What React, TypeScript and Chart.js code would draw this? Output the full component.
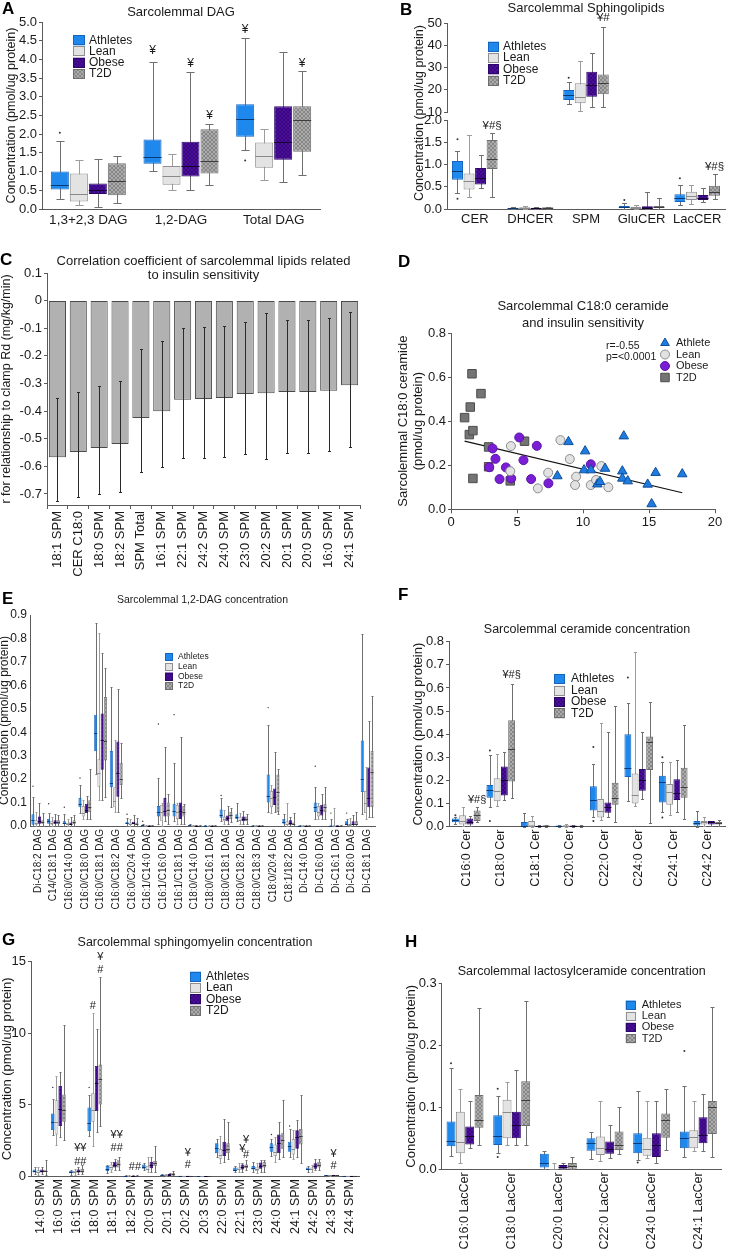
import React, { useEffect, useRef } from 'react';
import { Chart, registerables } from 'chart.js';

Chart.register(...registerables);

const FONT = "'Liberation Sans', Arial, Helvetica, sans-serif";
Chart.defaults.font.family = FONT;
Chart.defaults.color = '#1a1a1a';

type Stat = number[] | null; // [lo whisker, q1, median, q3, hi whisker]
type Ann = { cat: number; ds: number; v: number; t: string };

// ======================= DATA =======================
const GROUPS = ['Athletes', 'Lean', 'Obese', 'T2D'];

// ---- A: Sarcolemmal DAG ----
const A_CATS = ['1,3+2,3 DAG', '1,2-DAG', 'Total DAG'];
const A_ATH: Stat[] = [[0.28, 0.52, 0.65, 1.0, 1.82], [1.02, 1.21, 1.4, 1.86, 3.92], [1.58, 1.93, 2.4, 2.8, 4.56]];
const A_LEAN: Stat[] = [[0.12, 0.2, 0.4, 0.95, 1.32], [0.52, 0.65, 0.87, 1.15, 1.48], [0.78, 1.1, 1.43, 1.78, 2.13]];
const A_OB: Stat[] = [[0.06, 0.4, 0.52, 0.68, 1.35], [0.5, 0.87, 1.15, 1.8, 3.67], [0.72, 1.32, 1.8, 2.75, 4.2]];
const A_T2D: Stat[] = [[0.17, 0.37, 0.74, 1.22, 1.43], [0.65, 0.95, 1.28, 2.13, 2.26], [0.92, 1.53, 2.37, 2.75, 3.69]];
const A_ATH_OUT = [[0, 2.04], [2, 1.3]];
const A_ANN: Ann[] = [
  { cat: 1, ds: 0, v: 4.23, t: '¥' }, { cat: 1, ds: 2, v: 3.88, t: '¥' }, { cat: 1, ds: 3, v: 2.49, t: '¥' },
  { cat: 2, ds: 0, v: 4.8, t: '¥' }, { cat: 2, ds: 3, v: 3.88, t: '¥' },
];

// ---- B: Sarcolemmal Sphingolipids (SPM on the upper, broken axis) ----
const B_CATS = ['CER', 'DHCER', 'SPM', 'GluCER', 'LacCER'];
const B_ON_UPPER = [false, false, true, false, false];
const B_ATH: Stat[] = [[0.35, 0.66, 0.85, 1.08, 1.3], [0.005, 0.015, 0.02, 0.03, 0.05], [13.5, 15.4, 17.6, 19.9, 23.3], [0.01, 0.04, 0.05, 0.07, 0.13], [0.1, 0.16, 0.25, 0.33, 0.54]];
const B_LEAN: Stat[] = [[0.28, 0.44, 0.64, 0.8, 1.66], [0.01, 0.02, 0.03, 0.04, 0.06], [10.4, 13.9, 16.9, 22.9, 32.9], [0.005, 0.02, 0.03, 0.05, 0.08], [0.12, 0.2, 0.29, 0.39, 0.54]];
const B_OB: Stat[] = [[0.47, 0.55, 0.7, 0.92, 1.21], [0.005, 0.015, 0.02, 0.03, 0.04], [12.1, 16.9, 22.1, 28.1, 36.4], [0.005, 0.02, 0.03, 0.06, 0.38], [0.16, 0.2, 0.25, 0.315, 0.48]];
const B_T2D: Stat[] = [[0.27, 0.9, 1.12, 1.55, 1.7], [0.01, 0.02, 0.03, 0.04, 0.05], [12.4, 18.0, 23.2, 26.9, 48.3], [0.01, 0.03, 0.05, 0.07, 0.25], [0.22, 0.3, 0.39, 0.52, 0.78]];
const B_ATH_OUT = [[0, 1.57], [0, 0.23], [2, 25.4], [3, 0.2], [4, 0.69]];
const B_ANN: Ann[] = [
  { cat: 0, ds: 3, v: 1.88, t: '¥#§' }, { cat: 2, ds: 3, v: 52.1, t: '¥#' }, { cat: 4, ds: 3, v: 0.95, t: '¥#§' },
];

// ---- C: correlation coefficients ----
const C_LABELS = ['18:1 SPM', 'CER C18:0', '18:0 SPM', '18:2 SPM', 'SPM Total', '16:1 SPM', '22:1 SPM', '24:2 SPM', '24:0 SPM', '23:0 SPM', '20:2 SPM', '20:1 SPM', '20:0 SPM', '16:0 SPM', '24:1 SPM'];
const C_R = [-0.567, -0.548, -0.534, -0.519, -0.425, -0.401, -0.359, -0.356, -0.353, -0.338, -0.335, -0.331, -0.331, -0.326, -0.306];
const C_LO = [-0.725, -0.711, -0.699, -0.694, -0.621, -0.604, -0.57, -0.57, -0.567, -0.556, -0.572, -0.552, -0.552, -0.545, -0.53];
const C_HI = [-0.353, -0.33, -0.31, -0.29, -0.175, -0.147, -0.099, -0.095, -0.092, -0.077, -0.045, -0.07, -0.07, -0.063, -0.041];

// ---- D: scatter C18:0 ceramide vs insulin sensitivity ----
const D_ATH = [[8.9, 0.306], [10.16, 0.264], [13.09, 0.332], [8.06, 0.151], [10.08, 0.178], [10.6, 0.178], [11.67, 0.185], [12.98, 0.173], [15.5, 0.166], [17.52, 0.16], [11.09, 0.114], [11.29, 0.125], [12.98, 0.14], [13.39, 0.128], [14.9, 0.113], [15.2, 0.024]];
const D_LEAN = [[4.54, 0.287], [4.49, 0.173], [8.29, 0.314], [9.0, 0.228], [7.36, 0.166], [9.48, 0.148], [9.4, 0.11], [6.58, 0.095], [10.59, 0.11], [10.99, 0.133], [11.39, 0.196], [11.92, 0.1]];
const D_OB = [[3.15, 0.276], [5.17, 0.326], [6.5, 0.288], [3.37, 0.229], [5.49, 0.223], [4.16, 0.19], [2.9, 0.191], [3.68, 0.137], [4.56, 0.14], [6.07, 0.137], [7.38, 0.118], [10.59, 0.204]];
const D_T2D = [[1.59, 0.615], [2.27, 0.525], [1.46, 0.464], [1.03, 0.416], [1.39, 0.339], [1.66, 0.357], [2.85, 0.283], [5.57, 0.309], [2.85, 0.193], [1.66, 0.14], [4.49, 0.129]];
const D_FIT = [[1.03, 0.309], [17.52, 0.075]];
const D_STATS = ['r=-0.55', 'p=<0.0001'];

// ---- E: 1,2-DAG species ----
const E_CATS = ['Di-C18:2 DAG', 'C14/C18:1 DAG', 'C16:0/C14:0 DAG', 'C16:0/C18:0 DAG', 'C16:0/C18:1 DAG', 'C16:0/C18:2 DAG', 'C16:0/C20:4 DAG', 'C16:1/C14:0 DAG', 'C16:1/C16:0 DAG', 'C16:1/C18:1 DAG', 'C18:0/C14:0 DAG', 'C18:0/C16:1 DAG', 'C18:0/C18:1 DAG', 'C18:0/C18:2 DAG', 'C18:0/C18:3 DAG', 'C18:0/20:4 DAG', 'C18:1/18:2 DAG', 'Di-C14:0 DAG', 'Di-C16:0 DAG', 'Di-C16:1 DAG', 'Di-C18:0 DAG', 'Di-C18:1 DAG'];
const E_ATH: Stat[] = [
  [0, 0.005, 0.025, 0.05, 0.125], [0, 0.01, 0.02, 0.03, 0.055], [0, 0.008, 0.012, 0.02, 0.05], [0.055, 0.08, 0.095, 0.12, 0.175],
  [0.22, 0.32, 0.395, 0.475, 0.865], [0.08, 0.165, 0.185, 0.32, 0.595], [0, 0.008, 0.012, 0.018, 0.035], [0, 0.002, 0.003, 0.005, 0.01],
  [0.01, 0.04, 0.06, 0.085, 0.205], [0.02, 0.04, 0.065, 0.095, 0.27], [0, 0.002, 0.003, 0.005, 0.01], [0, 0.001, 0.002, 0.003, 0.005],
  [0.02, 0.035, 0.045, 0.07, 0.12], [0.02, 0.03, 0.04, 0.05, 0.1], [0, 0.001, 0.002, 0.003, 0.005], [0.06, 0.1, 0.13, 0.22, 0.43],
  [0, 0.01, 0.015, 0.03, 0.05], [0, 0.001, 0.002, 0.003, 0.005], [0.03, 0.06, 0.08, 0.1, 0.165], [0, 0.001, 0.002, 0.005, 0.03],
  [0, 0.005, 0.01, 0.02, 0.03], [0.05, 0.145, 0.2, 0.365, 0.82],
];
const E_LEAN: Stat[] = [
  [0, 0.005, 0.012, 0.025, 0.06], [0, 0.005, 0.012, 0.02, 0.04], [0, 0.004, 0.008, 0.013, 0.03], [0.03, 0.04, 0.055, 0.085, 0.11],
  [0.113, 0.167, 0.227, 0.285, 0.823], [0.06, 0.08, 0.105, 0.165, 0.365], [0, 0.005, 0.01, 0.015, 0.03], [0, 0.001, 0.002, 0.003, 0.006],
  [0, 0.02, 0.06, 0.09, 0.1], [0.01, 0.03, 0.06, 0.09, 0.1], [0, 0.001, 0.002, 0.003, 0.006], [0, 0.001, 0.001, 0.002, 0.004],
  [0.01, 0.02, 0.03, 0.04, 0.07], [0.01, 0.02, 0.025, 0.04, 0.055], [0, 0.001, 0.001, 0.002, 0.004], [0.055, 0.08, 0.12, 0.15, 0.175],
  [0, 0.005, 0.01, 0.02, 0.1], [0, 0.001, 0.001, 0.002, 0.004], [0.03, 0.04, 0.06, 0.085, 0.1], [0, 0.001, 0.002, 0.004, 0.075],
  [0, 0.003, 0.005, 0.01, 0.035], [0.03, 0.055, 0.1, 0.15, 0.25],
];
const E_OB: Stat[] = [
  [0, 0.01, 0.02, 0.04, 0.1], [0, 0.007, 0.015, 0.025, 0.05], [0, 0.006, 0.01, 0.015, 0.04], [0.03, 0.055, 0.07, 0.095, 0.13],
  [0.113, 0.24, 0.365, 0.48, 0.74], [0.06, 0.125, 0.225, 0.36, 0.585], [0, 0.007, 0.012, 0.018, 0.045], [0, 0.001, 0.002, 0.003, 0.006],
  [0.02, 0.04, 0.065, 0.12, 0.335], [0.01, 0.03, 0.065, 0.1, 0.38], [0, 0.001, 0.002, 0.003, 0.006], [0, 0.001, 0.001, 0.002, 0.004],
  [0.01, 0.02, 0.035, 0.045, 0.085], [0.01, 0.02, 0.03, 0.04, 0.065], [0, 0.001, 0.001, 0.002, 0.004], [0.06, 0.09, 0.125, 0.16, 0.315],
  [0, 0.005, 0.012, 0.025, 0.04], [0, 0.001, 0.001, 0.002, 0.004], [0.03, 0.045, 0.07, 0.09, 0.135], [0, 0.001, 0.002, 0.003, 0.006],
  [0, 0.005, 0.01, 0.02, 0.045], [0.04, 0.08, 0.12, 0.25, 0.45],
];
const E_T2D: Stat[] = [
  [0, 0.01, 0.017, 0.025, 0.055], [0.002, 0.008, 0.015, 0.025, 0.045], [0, 0.008, 0.015, 0.025, 0.045], [0.03, 0.06, 0.08, 0.11, 0.245],
  [0.124, 0.279, 0.363, 0.55, 0.676], [0.12, 0.175, 0.2, 0.27, 0.355], [0, 0.007, 0.01, 0.015, 0.035], [0, 0.001, 0.002, 0.003, 0.006],
  [0.01, 0.04, 0.07, 0.1, 0.135], [0.01, 0.04, 0.06, 0.085, 0.095], [0, 0.001, 0.002, 0.003, 0.006], [0, 0.001, 0.001, 0.002, 0.004],
  [0.015, 0.03, 0.045, 0.06, 0.075], [0.01, 0.02, 0.03, 0.04, 0.05], [0, 0.001, 0.001, 0.002, 0.004], [0.05, 0.06, 0.145, 0.22, 0.245],
  [0, 0.005, 0.01, 0.015, 0.055], [0, 0.001, 0.001, 0.002, 0.004], [0.03, 0.06, 0.08, 0.095, 0.165], [0, 0.001, 0.002, 0.003, 0.006],
  [0, 0.005, 0.01, 0.02, 0.06], [0.04, 0.08, 0.23, 0.32, 0.555],
];
const E_ATH_OUT = [[0, 0.17], [1, 0.095], [2, 0.08], [3, 0.205], [6, 0.05], [7, 0.02], [8, 0.435], [9, 0.475], [12, 0.13], [15, 0.505], [18, 0.255], [19, 0.055], [20, 0.055]];

// ---- F: ceramide species ----
const F_CATS = ['C16:0 Cer', 'C18:0 Cer', 'C18:1 Cer', 'C20:0 Cer', 'C22:0 Cer', 'C24:0 Cer', 'C24:1 Cer', 'C24:2 Cer'];
const F_ATH: Stat[] = [[0.01, 0.019, 0.028, 0.036, 0.04], [0.085, 0.125, 0.16, 0.18, 0.31], [0, 0, 0.005, 0.02, 0.06], [0, 0.002, 0.003, 0.005, 0.008], [0.04, 0.07, 0.115, 0.175, 0.27], [0.11, 0.215, 0.255, 0.4, 0.535], [0.065, 0.105, 0.195, 0.22, 0.28], [0, 0.005, 0.015, 0.025, 0.07]];
const F_LEAN: Stat[] = [[0.005, 0.01, 0.025, 0.05, 0.085], [0.09, 0.11, 0.155, 0.21, 0.315], [0, 0, 0.005, 0.025, 0.045], [0, 0.002, 0.004, 0.006, 0.01], [0.03, 0.04, 0.07, 0.12, 0.45], [0.09, 0.1, 0.135, 0.23, 0.755], [0.05, 0.095, 0.15, 0.185, 0.28], [0.005, 0.01, 0.02, 0.025, 0.04]];
const F_OB: Stat[] = [[0.005, 0.01, 0.02, 0.035, 0.045], [0.115, 0.135, 0.2, 0.26, 0.325], [0, 0.001, 0.002, 0.004, 0.006], [0, 0.001, 0.003, 0.005, 0.007], [0.04, 0.06, 0.085, 0.105, 0.41], [0.12, 0.155, 0.2, 0.25, 0.41], [0.065, 0.115, 0.145, 0.205, 0.29], [0.005, 0.01, 0.02, 0.025, 0.025]];
const F_T2D: Stat[] = [[0.02, 0.025, 0.05, 0.07, 0.085], [0.125, 0.195, 0.335, 0.46, 0.615], [0, 0.002, 0.004, 0.006, 0.008], [0, 0.001, 0.003, 0.004, 0.006], [0.02, 0.095, 0.125, 0.19, 0.52], [0.015, 0.245, 0.365, 0.39, 0.54], [0.035, 0.125, 0.17, 0.255, 0.44], [0.005, 0.01, 0.015, 0.02, 0.03]];
const F_ATH_OUT = [[0, 0.05], [1, 0.33], [1, 0.025], [4, 0.345], [4, 0.025], [5, 0.645], [6, 0.3], [6, 0.04]];
const F_ANN: Ann[] = [{ cat: 0, ds: 3, v: 0.116, t: '¥#§' }, { cat: 1, ds: 3, v: 0.657, t: '¥#§' }];

// ---- G: sphingomyelin species ----
const G_CATS = ['14:0 SPM', '16:0 SPM', '16:1 SPM', '18:0 SPM', '18:1 SPM', '18:2 SPM', '20:0 SPM', '20:1 SPM', '20:2 SPM', '20:3 SPM', '22:0 SPM', '22:1 SPM', '23:0 SPM', '24:0 SPM', '24:1 SPM', '24:2 SPM', '24:3 SPM', '24:4 SPM'];
const G_ATH: Stat[] = [[0.15, 0.25, 0.35, 0.45, 0.6], [2.9, 3.22, 3.8, 4.38, 5.4], [0.1, 0.2, 0.25, 0.35, 0.4], [2.8, 3.15, 3.7, 4.8, 5.7], [0.2, 0.35, 0.5, 0.7, 0.8], [0, 0.01, 0.02, 0.03, 0.05], [0.4, 0.5, 0.65, 0.8, 0.9], [0.02, 0.05, 0.07, 0.1, 0.12], [0, 0.005, 0.01, 0.015, 0.02], [0, 0.002, 0.005, 0.008, 0.01], [1.3, 1.6, 1.95, 2.3, 2.6], [0.3, 0.35, 0.45, 0.6, 0.7], [0.3, 0.45, 0.55, 0.7, 1.0], [1.4, 1.7, 2.0, 2.3, 2.6], [1.3, 1.7, 2.1, 2.4, 3.3], [0.3, 0.4, 0.5, 0.6, 0.7], [0.01, 0.03, 0.05, 0.06, 0.08], [0, 0.005, 0.01, 0.015, 0.02]];
const G_LEAN: Stat[] = [[0.1, 0.2, 0.3, 0.4, 0.6], [2.2, 2.9, 3.8, 5.3, 7.0], [0.1, 0.2, 0.25, 0.35, 0.5], [2.1, 3.8, 4.6, 5.8, 11.4], [0.3, 0.4, 0.6, 0.8, 1.0], [0, 0.01, 0.02, 0.03, 0.05], [0.3, 0.4, 0.5, 0.7, 1.3], [0.02, 0.05, 0.07, 0.1, 0.15], [0, 0.005, 0.01, 0.015, 0.02], [0, 0.002, 0.005, 0.008, 0.01], [0.9, 1.2, 1.5, 1.9, 2.8], [0.3, 0.4, 0.5, 0.6, 0.9], [0.2, 0.35, 0.5, 0.65, 0.9], [1.0, 1.4, 1.7, 2.2, 2.7], [1.2, 1.5, 1.9, 2.6, 3.2], [0.3, 0.4, 0.5, 0.6, 0.8], [0.01, 0.03, 0.04, 0.06, 0.08], [0, 0.005, 0.01, 0.015, 0.02]];
const G_OB: Stat[] = [[0.15, 0.25, 0.35, 0.45, 0.6], [2.7, 3.5, 4.7, 6.3, 7.3], [0.15, 0.25, 0.35, 0.45, 0.6], [3.1, 4.55, 6.5, 7.7, 10.3], [0.4, 0.6, 0.8, 1.0, 1.2], [0, 0.01, 0.02, 0.03, 0.05], [0.3, 0.55, 0.75, 1.0, 1.3], [0.03, 0.06, 0.1, 0.15, 0.2], [0, 0.005, 0.01, 0.015, 0.02], [0, 0.002, 0.005, 0.008, 0.01], [1.0, 1.4, 1.8, 2.4, 4.0], [0.3, 0.45, 0.6, 0.8, 0.9], [0.3, 0.5, 0.7, 0.95, 1.1], [1.2, 1.6, 2.3, 2.9, 3.8], [1.3, 1.9, 2.7, 3.2, 3.9], [0.4, 0.5, 0.7, 0.9, 1.2], [0.01, 0.03, 0.05, 0.07, 0.1], [0, 0.005, 0.01, 0.015, 0.02]];
const G_T2D: Stat[] = [[0.1, 0.3, 0.35, 0.4, 1.15], [2.5, 3.8, 4.6, 5.7, 10.6], [0.15, 0.25, 0.35, 0.5, 0.8], [3.5, 5.0, 6.8, 7.8, 13.9], [0.4, 0.6, 0.85, 1.1, 1.3], [0, 0.01, 0.02, 0.03, 0.05], [0.3, 0.7, 0.9, 1.05, 2.1], [0.05, 0.1, 0.15, 0.2, 0.35], [0, 0.005, 0.01, 0.015, 0.02], [0, 0.002, 0.005, 0.008, 0.01], [1.2, 1.6, 1.9, 2.3, 3.8], [0.4, 0.55, 0.7, 0.8, 1.1], [0.3, 0.6, 0.8, 1.0, 1.1], [1.3, 1.9, 2.5, 3.0, 5.3], [0.9, 2.2, 2.8, 3.3, 5.7], [0.4, 0.6, 0.8, 1.0, 1.2], [0.01, 0.03, 0.05, 0.07, 0.1], [0, 0.005, 0.01, 0.015, 0.02]];
const G_ATH_OUT = [[1, 6.2], [3, 6.2], [13, 2.9], [14, 3.5]];
const G_ANN: Ann[] = [
  { cat: 2, ds: 2.5, v: 1.94, t: '¥¥' }, { cat: 2, ds: 2.5, v: 1.0, t: '##' },
  { cat: 3, ds: 1, v: 11.9, t: '#' }, { cat: 3, ds: 3, v: 15.3, t: '¥' }, { cat: 3, ds: 3, v: 14.4, t: '#' },
  { cat: 4, ds: 2.5, v: 2.87, t: '¥¥' }, { cat: 4, ds: 2.5, v: 1.98, t: '##' },
  { cat: 5, ds: 2.5, v: 0.6, t: '##' },
  { cat: 8, ds: 2, v: 1.63, t: '¥' }, { cat: 8, ds: 2, v: 0.77, t: '#' },
  { cat: 11, ds: 2, v: 1.87, t: '¥' }, { cat: 11, ds: 3, v: 2.5, t: '¥' }, { cat: 11, ds: 3, v: 1.5, t: '#' },
  { cat: 16, ds: 2, v: 1.54, t: '¥' }, { cat: 16, ds: 2, v: 0.7, t: '#' },
];

// ---- H: lactosylceramide species ----
const H_CATS = ['C16:0 LacCer', 'C18:0 LacCer', 'C20:0 LacCer', 'C22:0 LacCer', 'C24:0 LacCer', 'C24:1 LacCer'];
const H_ATH: Stat[] = [[0.022, 0.037, 0.046, 0.077, 0.164], [0.027, 0.039, 0.054, 0.087, 0.118], [0, 0.003, 0.01, 0.025, 0.03], [0.017, 0.03, 0.042, 0.05, 0.06], [0.015, 0.026, 0.042, 0.058, 0.127], [0.02, 0.034, 0.051, 0.061, 0.134]];
const H_LEAN: Stat[] = [[0.01, 0.026, 0.044, 0.093, 0.13], [0.039, 0.05, 0.092, 0.112, 0.14], [0, 0, 0, 0, 0.01], [0.013, 0.023, 0.035, 0.053, 0.11], [0.018, 0.022, 0.032, 0.051, 0.11], [0.03, 0.034, 0.052, 0.063, 0.11]];
const H_OB: Stat[] = [[0.034, 0.04, 0.053, 0.069, 0.11], [0.039, 0.05, 0.072, 0.093, 0.16], [0, 0.001, 0.004, 0.007, 0.01], [0.018, 0.025, 0.032, 0.045, 0.071], [0.01, 0.02, 0.04, 0.058, 0.11], [0.03, 0.042, 0.055, 0.084, 0.121]];
const H_T2D: Stat[] = [[0.039, 0.067, 0.08, 0.12, 0.26], [0.04, 0.07, 0.112, 0.142, 0.271], [0, 0.001, 0.005, 0.01, 0.02], [0.025, 0.031, 0.04, 0.061, 0.1], [0.031, 0.051, 0.08, 0.09, 0.13], [0.02, 0.057, 0.1, 0.11, 0.261]];
const H_ATH_OUT = [[0, 0.171], [1, 0.13], [1, 0.02], [4, 0.011], [5, 0.191]];

// ======================= STYLE / HELPERS =======================
const AX = '#5a5a5a';
const TXT = '#1a1a1a';
const STYLE = [
  { fill: '#1f88ec', border: '#1565c0', med: '#0a3a75', whisk: '#6f6f6f' },
  { fill: '#e3e3e3', border: '#8f8f8f', med: '#8a8a8a', whisk: '#9c9c9c' },
  { fill: '#4c0ea0', hatch: '#33066f', border: '#2a0766', med: '#14032f', whisk: '#6f6f6f' },
  { fill: '#ababab', hatch: '#7d7d7d', border: '#6e6e6e', med: '#3d3d3d', whisk: '#6f6f6f' },
];
const f0 = (v: number) => v.toFixed(0);
const f1 = (v: number) => v.toFixed(1);

function hatchPattern(ctx: CanvasRenderingContext2D, base: string, line: string) {
  const c = document.createElement('canvas');
  c.width = 4; c.height = 4;
  const g = c.getContext('2d')!;
  g.fillStyle = base; g.fillRect(0, 0, 4, 4);
  g.strokeStyle = line; g.lineWidth = 0.8;
  g.beginPath();
  g.moveTo(0, 0); g.lineTo(4, 4);
  g.moveTo(4, 0); g.lineTo(0, 4);
  g.stroke();
  return ctx.createPattern(c, 'repeat')!;
}

function titleOpt(t: any, areaTop: number) {
  if (!t) return { display: false };
  const lines = Array.isArray(t.text) ? t.text.length : 1;
  const lh = t.lh ?? 1.2;
  const blockH = lines * t.size * lh;
  const pt = t.y - blockH / 2;
  return {
    display: true, text: t.text, fullSize: false, color: TXT,
    font: { size: t.size, weight: 'normal', lineHeight: lh },
    padding: { top: pt, bottom: areaTop - pt - blockH },
  };
}

function yScale(o: any) {
  const tl = o.tickLen ?? 3;
  return {
    min: o.min, max: o.max,
    grid: { display: true, drawOnChartArea: false, drawTicks: tl > 0, tickLength: tl, color: AX },
    border: { display: true, color: AX },
    ticks: { stepSize: o.step, includeBounds: false, font: { size: o.tick }, color: TXT, padding: o.tickPad ?? 2, callback: (v: any) => o.fmt(Number(v)) },
    title: o.yTitle
      ? { display: true, text: o.yTitle.text, color: TXT, font: { size: o.yTitle.size, lineHeight: o.yTitle.lh ?? 1.2 }, padding: { top: o.yTitle.x - (o.yTitle.size * (o.yTitle.lh ?? 1.2)) / 2, bottom: 0 } }
      : { display: false },
    afterFit: (s: any) => { s.width = o.width; },
  };
}

function boxPlugin(ann: Ann[], annSize: number, outR: number) {
  const snap = (v: number) => Math.round(v) + 0.5;
  return {
    id: 'boxWhiskers',
    beforeDatasetsDraw(chart: any) {
      const ctx = chart.ctx;
      chart.data.datasets.forEach((ds: any, i: number) => {
        const meta = chart.getDatasetMeta(i);
        const ys = chart.scales[meta.yAxisID];
        ds.stats.forEach((s: Stat, j: number) => {
          if (!s) return;
          const el = meta.data[j];
          const x = snap(el.x);
          const cw = Math.max(el.width * 0.45, 2);
          const yLo = snap(ys.getPixelForValue(s[0]));
          const yHi = snap(ys.getPixelForValue(s[4]));
          ctx.save();
          ctx.strokeStyle = ds.whisk; ctx.lineWidth = 1;
          ctx.beginPath();
          ctx.moveTo(x, yLo); ctx.lineTo(x, yHi);
          ctx.moveTo(x - cw / 2, yLo); ctx.lineTo(x + cw / 2, yLo);
          ctx.moveTo(x - cw / 2, yHi); ctx.lineTo(x + cw / 2, yHi);
          ctx.stroke();
          ctx.restore();
        });
      });
    },
    afterDatasetsDraw(chart: any) {
      const ctx = chart.ctx;
      chart.data.datasets.forEach((ds: any, i: number) => {
        const meta = chart.getDatasetMeta(i);
        const ys = chart.scales[meta.yAxisID];
        ctx.save();
        ds.stats.forEach((s: Stat, j: number) => {
          if (!s) return;
          const el = meta.data[j];
          const y = snap(ys.getPixelForValue(s[2]));
          ctx.strokeStyle = ds.med; ctx.lineWidth = 1;
          ctx.beginPath(); ctx.moveTo(el.x - el.width / 2, y); ctx.lineTo(el.x + el.width / 2, y); ctx.stroke();
        });
        (ds.outs || []).forEach((o: number[]) => {
          const j = o[0];
          if (!ds.stats[j]) return;
          const el = meta.data[j];
          ctx.fillStyle = '#333';
          ctx.beginPath(); ctx.arc(el.x, ys.getPixelForValue(o[1]), outR, 0, Math.PI * 2); ctx.fill();
        });
        ctx.restore();
      });
      ctx.save();
      ctx.font = `${annSize}px ${FONT}`; ctx.fillStyle = TXT; ctx.textAlign = 'center'; ctx.textBaseline = 'middle';
      ann.forEach((a) => {
        const m0 = chart.getDatasetMeta(Math.floor(a.ds));
        const m1 = chart.getDatasetMeta(Math.ceil(a.ds));
        if (!chart.data.datasets[Math.floor(a.ds)].stats[a.cat]) return;
        const x = (m0.data[a.cat].x + m1.data[a.cat].x) / 2;
        const ys = chart.scales[m0.yAxisID];
        ctx.fillText(a.t, x, ys.getPixelForValue(a.v));
      });
      ctx.restore();
    },
  };
}

function legendPlugin(cfg: any) {
  return {
    id: 'groupLegend',
    afterDraw(chart: any) {
      const ctx = chart.ctx;
      chart.data.datasets.forEach((ds: any, i: number) => {
        const y = cfg.rows[i];
        ctx.save();
        ctx.fillStyle = ds.backgroundColor;
        ctx.fillRect(cfg.x, y - cfg.sh / 2, cfg.sw, cfg.sh);
        ctx.strokeStyle = ds.borderColor; ctx.lineWidth = 1;
        ctx.strokeRect(Math.round(cfg.x) + 0.5, Math.round(y - cfg.sh / 2) + 0.5, cfg.sw - 1, cfg.sh - 1);
        ctx.fillStyle = TXT; ctx.font = `${cfg.size}px ${FONT}`; ctx.textBaseline = 'middle'; ctx.textAlign = 'left';
        ctx.fillText(ds.label, cfg.tx, y);
        ctx.restore();
      });
    },
  };
}

function textPlugin(items: any[]) {
  return {
    id: 'freeText',
    afterDraw(chart: any) {
      const ctx = chart.ctx;
      items.forEach((it) => {
        ctx.save();
        ctx.translate(it.x, it.y);
        if (it.rot) ctx.rotate((it.rot * Math.PI) / 180);
        ctx.font = `${it.size}px ${FONT}`; ctx.fillStyle = TXT;
        ctx.textAlign = it.align || 'center'; ctx.textBaseline = 'middle';
        ctx.fillText(it.t, 0, 0);
        ctx.restore();
      });
    },
  };
}

function boxConfig(ctx: CanvasRenderingContext2D, sp: any) {
  const fills = STYLE.map((s: any) => (s.hatch ? hatchPattern(ctx, s.fill, s.hatch) : s.fill));
  const datasets = sp.groups.map((g: Stat[], i: number) => ({
    label: GROUPS[i],
    data: g.map((s) => (s ? [s[1], s[3]] : null)),
    stats: g,
    outs: sp.outs ? sp.outs[i] : [],
    backgroundColor: fills[i],
    borderColor: STYLE[i].border,
    borderWidth: sp.bw ?? 1,
    borderSkipped: false,
    whisk: STYLE[i].whisk,
    med: STYLE[i].med,
    categoryPercentage: sp.cat,
    barPercentage: sp.bar,
  }));
  const plugins: any[] = [boxPlugin(sp.ann || [], sp.annSize || 11, sp.outR ?? 1)];
  if (sp.legend) plugins.push(legendPlugin(sp.legend));
  if (sp.texts) plugins.push(textPlugin(sp.texts));
  return {
    type: 'bar',
    data: { labels: sp.cats, datasets },
    options: {
      responsive: false, animation: false, events: [],
      layout: { padding: { left: 0, right: sp.W - sp.area.r, top: sp.title ? 0 : sp.area.t, bottom: 0 } },
      plugins: { legend: { display: false }, tooltip: { enabled: false }, title: titleOpt(sp.title, sp.area.t) },
      scales: {
        x: {
          display: true,
          grid: { display: false, drawTicks: false },
          border: { display: sp.xShow !== false, color: AX },
          ticks: { display: sp.xShow !== false, font: { size: sp.xFont }, color: TXT, padding: sp.xPad ?? 4, autoSkip: false, maxRotation: sp.rot ? 90 : 0, minRotation: sp.rot ? 90 : 0 },
          afterFit: (s: any) => { s.height = sp.H - sp.area.b; },
        },
        y: yScale({ ...sp.y, width: sp.area.l, yTitle: sp.yTitle }),
      },
    },
    plugins,
  };
}

function corrConfig(sp: any) {
  const err = {
    id: 'errBars',
    afterDatasetsDraw(chart: any) {
      const meta = chart.getDatasetMeta(0);
      const ys = chart.scales.y;
      const ctx = chart.ctx;
      ctx.save(); ctx.strokeStyle = '#2a2a2a'; ctx.lineWidth = 1;
      meta.data.forEach((el: any, j: number) => {
        const x = Math.round(el.x) + 0.5;
        const y1 = Math.round(ys.getPixelForValue(C_LO[j])) + 0.5;
        const y2 = Math.round(ys.getPixelForValue(C_HI[j])) + 0.5;
        ctx.beginPath();
        ctx.moveTo(x, y1); ctx.lineTo(x, y2);
        ctx.moveTo(x - 1.5, y1); ctx.lineTo(x + 1.5, y1);
        ctx.moveTo(x - 1.5, y2); ctx.lineTo(x + 1.5, y2);
        ctx.stroke();
      });
      ctx.restore();
    },
  };
  return {
    type: 'bar',
    data: { labels: C_LABELS, datasets: [{ label: 'r', data: C_R, backgroundColor: '#b1b1b1', borderColor: '#4a4a4a', borderWidth: 1, borderSkipped: false, categoryPercentage: 1, barPercentage: 0.82 }] },
    options: {
      responsive: false, animation: false, events: [],
      layout: { padding: { left: 0, right: sp.W - sp.area.r, top: 0, bottom: 0 } },
      plugins: { legend: { display: false }, tooltip: { enabled: false }, title: titleOpt(sp.title, sp.area.t) },
      scales: {
        x: {
          grid: { display: true, drawOnChartArea: false, drawTicks: true, tickLength: 4, color: AX, offset: true },
          border: { display: true, color: AX },
          ticks: { font: { size: sp.xFont }, color: TXT, padding: 2, autoSkip: false, maxRotation: 90, minRotation: 90 },
          afterFit: (s: any) => { s.height = sp.H - sp.area.b; },
        },
        y: yScale({ min: -0.74, max: 0.1, step: 0.1, tick: sp.tick, fmt: (v: number) => (Math.abs(v) < 1e-9 ? '0' : v.toFixed(1)), width: sp.area.l, yTitle: sp.yTitle }),
      },
    },
    plugins: [err],
  };
}

const D_STYLE = [
  { label: 'Athlete', shape: 'triangle', r: 5.5, fill: '#1e7be0', border: '#0f4f9a' },
  { label: 'Lean', shape: 'circle', r: 4.5, fill: '#e2e2e2', border: '#8c8c8c' },
  { label: 'Obese', shape: 'circle', r: 4.5, fill: '#7a1ed6', border: '#5b14a6' },
  { label: 'T2D', shape: 'rect', r: 6, fill: '#747474', border: '#4c4c4c' },
];

function drawMarker(ctx: CanvasRenderingContext2D, shape: string, x: number, y: number, r: number, fill: string, stroke: string) {
  ctx.beginPath();
  if (shape === 'triangle') {
    for (let k = 0; k < 3; k++) {
      const a = (k * 2 * Math.PI) / 3;
      const px = x + Math.sin(a) * r, py = y - Math.cos(a) * r;
      if (k === 0) ctx.moveTo(px, py); else ctx.lineTo(px, py);
    }
    ctx.closePath();
  } else if (shape === 'rect') {
    const h = r * Math.SQRT1_2;
    ctx.rect(x - h, y - h, 2 * h, 2 * h);
  } else {
    ctx.arc(x, y, r, 0, Math.PI * 2);
  }
  ctx.fillStyle = fill; ctx.fill();
  ctx.strokeStyle = stroke; ctx.lineWidth = 1; ctx.stroke();
}

function scatterConfig(sp: any) {
  const mk = (pts: number[][]) => pts.map(([x, y]) => ({ x, y }));
  const sets = [D_ATH, D_LEAN, D_OB, D_T2D];
  const leg = {
    id: 'scLegend',
    afterDraw(chart: any) {
      const ctx = chart.ctx;
      ctx.save();
      D_STYLE.forEach((s, i) => {
        const y = sp.legend.rows[i];
        drawMarker(ctx, s.shape, sp.legend.x, y, sp.legend.r[i], s.fill, s.border);
        ctx.fillStyle = TXT; ctx.font = `${sp.legend.size}px ${FONT}`; ctx.textAlign = 'left'; ctx.textBaseline = 'middle';
        ctx.fillText(s.label, sp.legend.tx, y);
      });
      ctx.restore();
    },
  };
  return {
    type: 'scatter',
    data: {
      datasets: [
        ...D_STYLE.map((s, i) => ({ label: s.label, data: mk(sets[i]), pointStyle: s.shape, pointRadius: s.r, backgroundColor: s.fill, borderColor: s.border, borderWidth: 1 })),
        { type: 'line', label: 'fit', data: mk(D_FIT), borderColor: '#111', borderWidth: 1.2, pointRadius: 0, fill: false },
      ],
    },
    options: {
      responsive: false, animation: false, events: [],
      layout: { padding: { left: 0, right: sp.W - sp.area.r, top: 0, bottom: 0 } },
      plugins: { legend: { display: false }, tooltip: { enabled: false }, title: titleOpt(sp.title, sp.area.t) },
      scales: {
        x: {
          type: 'linear', min: 0, max: 20,
          grid: { display: true, drawOnChartArea: false, drawTicks: true, tickLength: 4, color: AX },
          border: { display: true, color: AX },
          ticks: { stepSize: 5, font: { size: sp.tick }, color: TXT, padding: 1 },
          afterFit: (s: any) => { s.height = sp.H - sp.area.b; },
        },
        y: yScale({ min: 0, max: 0.8, step: 0.2, tick: sp.tick, fmt: f1, width: sp.area.l, yTitle: sp.yTitle }),
      },
    },
    plugins: [leg, textPlugin(sp.texts)],
  };
}

// ======================= PANEL SPECS (layout) =======================
const SPEC_A = {
  W: 335, H: 240, area: { l: 42, t: 22, r: 320, b: 209 },
  cats: A_CATS, groups: [A_ATH, A_LEAN, A_OB, A_T2D], outs: [A_ATH_OUT, [], [], []],
  y: { min: 0, max: 5, step: 0.5, fmt: f1, tick: 13 },
  xFont: 13.5, xPad: 3,
  title: { text: 'Sarcolemmal DAG', size: 13, y: 12 },
  yTitle: { text: 'Concentration (pmol/ug protein)', size: 12.5, x: 12 },
  cat: 0.82, bar: 0.95,
  legend: { x: 73, rows: [40.3, 51.3, 62.7, 74], sw: 12, sh: 10, tx: 89, size: 12 },
  ann: A_ANN, annSize: 12,
};

const bSplit = (g: Stat[], upper: boolean) => g.map((s, i) => (B_ON_UPPER[i] === upper ? s : null));
const SPEC_B_UP = {
  W: 365, H: 240, area: { l: 82, t: 23, r: 360, b: 112 }, xShow: false,
  cats: B_CATS, groups: [B_ATH, B_LEAN, B_OB, B_T2D].map((g) => bSplit(g, true)), outs: [B_ATH_OUT, [], [], []],
  y: { min: 10, max: 50, step: 10, fmt: f0, tick: 13 },
  xFont: 13,
  title: { text: 'Sarcolemmal Sphingolipids', size: 13, y: 8 },
  cat: 0.83, bar: 0.95,
  legend: { x: 123, rows: [46.7, 58, 69.3, 80.7], sw: 11, sh: 10, tx: 138, size: 12 },
  ann: B_ANN, annSize: 11.5,
};
const SPEC_B_LOW = {
  W: 365, H: 240, area: { l: 82, t: 120, r: 360, b: 209 },
  cats: B_CATS, groups: [B_ATH, B_LEAN, B_OB, B_T2D].map((g) => bSplit(g, false)), outs: [B_ATH_OUT, [], [], []],
  y: { min: 0, max: 2, step: 0.5, fmt: f1, tick: 13 },
  xFont: 13, xPad: 3,
  cat: 0.83, bar: 0.95,
  ann: B_ANN, annSize: 11.5,
  texts: [{ t: 'Concentration (pmol/ug protein)', x: 55, y: 113, size: 12.5, rot: -90 }],
};

const SPEC_C = {
  W: 372, H: 350, area: { l: 47, t: 33, r: 360, b: 265 },
  title: { text: ['Correlation coefficient of sarcolemmal lipids related', 'to insulin sensitivity'], size: 13, y: 28.5, lh: 1.03 },
  yTitle: { text: 'r for relationship to clamp Rd (mg/kg/min)', size: 12.5, x: 7 },
  tick: 13, xFont: 13,
};

const SPEC_D = {
  W: 360, H: 285, area: { l: 81, t: 83, r: 345, b: 259.3 },
  title: { text: ['Sarcolemmal C18:0 ceramide', 'and insulin sensitivity'], size: 13, y: 65, lh: 1.28 },
  yTitle: { text: ['Sarcolemmal C18:0 ceramide', '(pmol/ug protein)'], size: 13, x: 33, lh: 1.15 },
  tick: 13,
  legend: { x: 295, tx: 306, rows: [93, 104.5, 116, 127.5], r: [5, 4.5, 4.5, 6], size: 11 },
  texts: [
    { t: D_STATS[0], x: 236, y: 96, size: 10.5, align: 'left' },
    { t: D_STATS[1], x: 236, y: 107.5, size: 10.5, align: 'left' },
  ],
};

const SPEC_E = {
  W: 385, H: 340, area: { l: 30, t: 25, r: 375, b: 236 },
  cats: E_CATS, groups: [E_ATH, E_LEAN, E_OB, E_T2D], outs: [E_ATH_OUT, [], [], []],
  y: { min: 0, max: 0.9, step: 0.1, fmt: f1, tick: 12, tickLen: 0, tickPad: 3 },
  xFont: 10, xPad: 3, rot: true,
  title: { text: 'Sarcolemmal 1,2-DAG concentration', size: 10.5, y: 10 },
  yTitle: { text: 'Concentration (pmol/ug protein)', size: 12, x: 5 },
  cat: 0.83, bar: 0.95, bw: 0.8, outR: 0.7,
  legend: { x: 165, rows: [67, 77, 86.5, 96], sw: 8, sh: 8, tx: 178, size: 8.5 },
};

const SPEC_F = {
  W: 355, H: 345, area: { l: 74, t: 51.7, r: 350, b: 236.7 },
  cats: F_CATS, groups: [F_ATH, F_LEAN, F_OB, F_T2D], outs: [F_ATH_OUT, [], [], []],
  y: { min: 0, max: 0.8, step: 0.1, fmt: f1, tick: 13 },
  xFont: 12.5, xPad: 3, rot: true,
  title: { text: 'Sarcolemmal ceramide concentration', size: 12.5, y: 40 },
  yTitle: { text: 'Concentration (pmol/ug protein)', size: 13, x: 43 },
  cat: 0.84, bar: 0.95,
  legend: { x: 179, rows: [89, 100.7, 112, 123.3], sw: 11, sh: 10, tx: 196, size: 12 },
  ann: F_ANN, annSize: 11,
};

const SPEC_G = {
  W: 370, H: 322, area: { l: 31, t: 31.7, r: 359, b: 246 },
  cats: G_CATS, groups: [G_ATH, G_LEAN, G_OB, G_T2D], outs: [G_ATH_OUT, [], [], []],
  y: { min: 0, max: 15, step: 5, fmt: f0, tick: 13 },
  xFont: 12.5, xPad: 3, rot: true,
  title: { text: 'Sarcolemmal sphingomyelin concentration', size: 12.5, y: 13 },
  yTitle: { text: 'Concentration (pmol/ug protein)', size: 13, x: 7.5 },
  cat: 0.82, bar: 0.95, bw: 0.8, outR: 0.7,
  legend: { x: 190, rows: [46.7, 58, 69.3, 80.7], sw: 11, sh: 10, tx: 206, size: 12 },
  ann: G_ANN, annSize: 11,
};

const SPEC_H = {
  W: 360, H: 322, area: { l: 71.7, t: 53.3, r: 351.7, b: 239.3 },
  cats: H_CATS, groups: [H_ATH, H_LEAN, H_OB, H_T2D], outs: [H_ATH_OUT, [], [], []],
  y: { min: 0, max: 0.3, step: 0.1, fmt: f1, tick: 13 },
  xFont: 12.5, xPad: 3, rot: true,
  title: { text: 'Sarcolemmal lactosylceramide concentration', size: 12.5, y: 42 },
  yTitle: { text: 'Concentration (pmol/ug protein)', size: 13, x: 41.7 },
  cat: 0.8, bar: 0.96,
  legend: { x: 255.7, rows: [75, 86.3, 97.3, 108.7], sw: 10, sh: 9, tx: 271.7, size: 11 },
};

const LETTERS: [string, number, number][] = [
  ['A', 2, 0], ['B', 400, 1], ['C', 0, 251], ['D', 398, 253], ['E', 2, 590], ['F', 398, 586], ['G', 2, 931], ['H', 405, 933],
];

// ======================= COMPONENTS =======================
function ChartCanvas({ x, y, w, h, build }: { x: number; y: number; w: number; h: number; build: (ctx: CanvasRenderingContext2D) => any }) {
  const ref = useRef<HTMLCanvasElement>(null);
  useEffect(() => {
    const cv = ref.current!;
    const chart = new Chart(cv, build(cv.getContext('2d')!));
    return () => chart.destroy();
  }, []);
  return <canvas ref={ref} width={w} height={h} style={{ position: 'absolute', left: x, top: y, width: w, height: h }} />;
}

export default function App() {
  return (
    <div style={{ position: 'absolute', left: 0, top: 0, width: 730, height: 1252, background: '#fff', overflow: 'hidden', fontFamily: FONT }}>
      <ChartCanvas x={0} y={0} w={SPEC_A.W} h={SPEC_A.H} build={(ctx) => boxConfig(ctx, SPEC_A)} />
      <ChartCanvas x={365} y={0} w={SPEC_B_UP.W} h={SPEC_B_UP.H} build={(ctx) => boxConfig(ctx, SPEC_B_UP)} />
      <ChartCanvas x={365} y={0} w={SPEC_B_LOW.W} h={SPEC_B_LOW.H} build={(ctx) => boxConfig(ctx, SPEC_B_LOW)} />
      <ChartCanvas x={0} y={240} w={SPEC_C.W} h={SPEC_C.H} build={() => corrConfig(SPEC_C)} />
      <ChartCanvas x={370} y={250} w={SPEC_D.W} h={SPEC_D.H} build={() => scatterConfig(SPEC_D)} />
      <ChartCanvas x={0} y={590} w={SPEC_E.W} h={SPEC_E.H} build={(ctx) => boxConfig(ctx, SPEC_E)} />
      <ChartCanvas x={375} y={590} w={SPEC_F.W} h={SPEC_F.H} build={(ctx) => boxConfig(ctx, SPEC_F)} />
      <ChartCanvas x={0} y={930} w={SPEC_G.W} h={SPEC_G.H} build={(ctx) => boxConfig(ctx, SPEC_G)} />
      <ChartCanvas x={370} y={930} w={SPEC_H.W} h={SPEC_H.H} build={(ctx) => boxConfig(ctx, SPEC_H)} />
      {LETTERS.map(([t, lx, ly]) => (
        <div key={t} style={{ position: 'absolute', left: lx, top: ly, fontSize: 17, lineHeight: '17px', fontWeight: 'bold', color: '#000' }}>{t}</div>
      ))}
    </div>
  );
}
